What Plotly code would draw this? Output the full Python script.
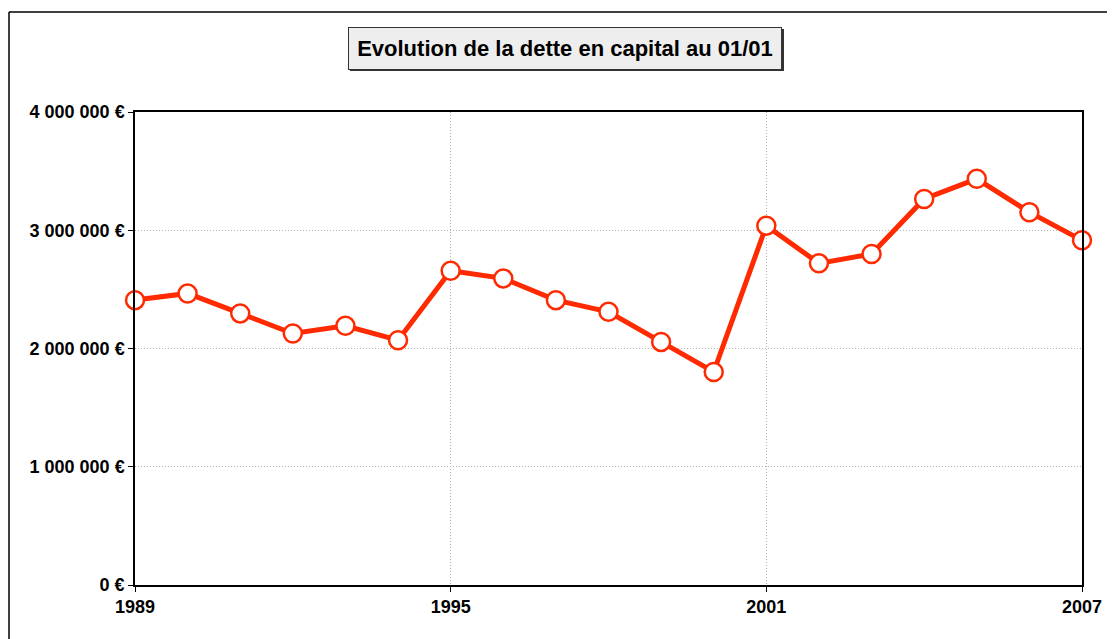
import plotly.graph_objects as go

years = list(range(1989, 2008))
debt = [2409000, 2466000, 2297000, 2127000, 2192000, 2070000, 2658000, 2593000,
        2409000, 2310000, 2056000, 1802000, 3039000, 2720000, 2799000, 3265000,
        3435000, 3153000, 2915000]

x_tickvals = [1989, 1995, 2001, 2007]
x_ticktext = ["1989", "1995", "2001", "2007"]
y_tickvals = [0, 1000000, 2000000, 3000000, 4000000]
y_ticktext = ["0 €", "1 000 000 €", "2 000 000 €", "3 000 000 €", "4 000 000 €"]
title_text = "Evolution de la dette en capital au 01/01"

RED = "#FF2A00"
FONT = "Liberation Sans, Arial, sans-serif"
GRID = "#B4B4B4"

fig = go.Figure()
fig.add_trace(go.Scatter(
    x=years, y=debt, mode="lines+markers",
    line=dict(color=RED, width=5),
    marker=dict(size=18, color="white", line=dict(color=RED, width=2.5)),
    cliponaxis=False, showlegend=False, hoverinfo="x+y",
))

axis_common = dict(
    showline=True, linecolor="black", linewidth=1.5, mirror=True,
    ticks="outside", ticklen=5, tickcolor="black",
    showgrid=True, gridcolor=GRID, griddash="1px,2px", gridwidth=1,
    tickfont=dict(family=FONT, size=18, weight="bold", color="black"),
    zeroline=False,
)

fig.update_layout(
    width=1115, height=639,
    margin=dict(l=127, r=41, t=104, b=62),
    paper_bgcolor="white", plot_bgcolor="white",
    font=dict(family=FONT, color="black"),
    xaxis=dict(range=[1989, 2007], tickvals=x_tickvals, ticktext=x_ticktext, **axis_common),
    yaxis=dict(range=[0, 4000000], tickvals=y_tickvals, ticktext=y_ticktext, **axis_common),
)

PW, PH = 947, 473.0
def px(x):  # page x -> paper
    return (x - 135) / PW
def py(y):  # page y -> paper
    return (585 - y) / PH

# outer chart frame (top and left edges; others lie outside the picture)
fig.add_shape(type="line", xref="paper", yref="paper",
              x0=px(9), x1=px(1250), y0=py(12), y1=py(12),
              line=dict(color="black", width=1.5), layer="below")
fig.add_shape(type="line", xref="paper", yref="paper",
              x0=px(9), x1=px(9), y0=py(12), y1=py(700),
              line=dict(color="black", width=1.5), layer="below")

# title shadow
fig.add_shape(type="rect", xref="paper", yref="paper",
              x0=px(350), x1=px(784), y0=py(71), y1=py(29),
              line=dict(width=0), fillcolor="#333333", layer="below")

fig.add_annotation(
    text=title_text, xref="paper", yref="paper",
    x=px(565), y=py(48),
    xanchor="center", yanchor="middle", showarrow=False,
    font=dict(family=FONT, size=22, weight="bold", color="black"),
    bgcolor="#EEEEEE", bordercolor="#333333", borderwidth=1, borderpad=1,
    width=430, height=39,
)

fig.write_html("out.html")
